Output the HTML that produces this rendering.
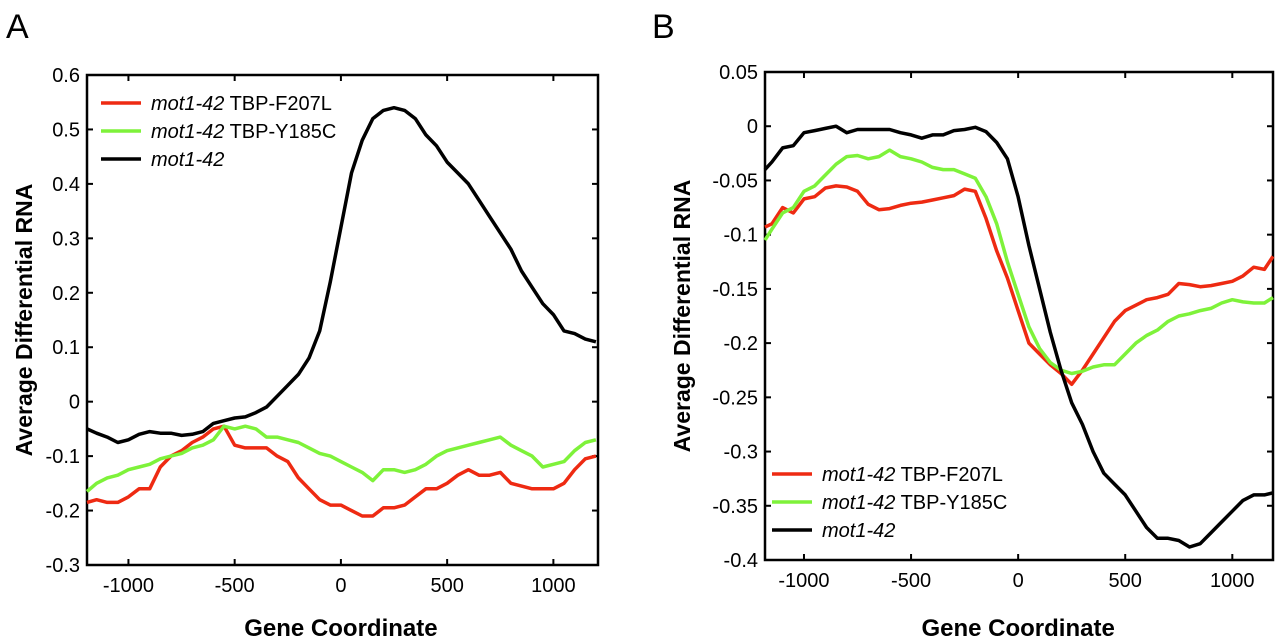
<!DOCTYPE html>
<html><head><meta charset="utf-8"><style>
body{margin:0;background:#fff;}
svg{display:block;font-family:"Liberation Sans",Arial,sans-serif;}
</style></head><body>
<svg id="chart" width="1280" height="641" viewBox="0 0 1280 641" xmlns="http://www.w3.org/2000/svg">
<text x="6" y="38" font-size="34">A</text>
<text x="652" y="38" font-size="34">B</text>
<g id="pa"></g>
<g id="pb"></g>
</svg>
<script>
const xCoords=[];for(let v=-1200;v<=1200;v+=50)xCoords.push(v);
const xTicks=[-1000,-500,0,500,1000];
const aYTicks=[0.6,0.5,0.4,0.3,0.2,0.1,0,-0.1,-0.2,-0.3];
const bYTicks=[0.05,0,-0.05,-0.1,-0.15,-0.2,-0.25,-0.3,-0.35,-0.4];
const aBlack=[-0.05,-0.058,-0.065,-0.075,-0.07,-0.06,-0.055,-0.058,-0.058,-0.062,-0.06,-0.055,-0.04,-0.035,-0.03,-0.028,-0.02,-0.01,0.01,0.03,0.05,0.08,0.13,0.22,0.32,0.42,0.48,0.52,0.535,0.54,0.535,0.52,0.49,0.47,0.44,0.42,0.40,0.37,0.34,0.31,0.28,0.24,0.21,0.18,0.16,0.13,0.125,0.115,0.11];
const aRed=[-0.185,-0.18,-0.185,-0.185,-0.175,-0.16,-0.16,-0.12,-0.1,-0.09,-0.075,-0.065,-0.05,-0.045,-0.08,-0.085,-0.085,-0.085,-0.1,-0.11,-0.14,-0.16,-0.18,-0.19,-0.19,-0.2,-0.21,-0.21,-0.195,-0.195,-0.19,-0.175,-0.16,-0.16,-0.15,-0.135,-0.125,-0.135,-0.135,-0.13,-0.15,-0.155,-0.16,-0.16,-0.16,-0.15,-0.125,-0.105,-0.1];
const aGreen=[-0.165,-0.15,-0.14,-0.135,-0.125,-0.12,-0.115,-0.105,-0.1,-0.095,-0.085,-0.08,-0.07,-0.045,-0.05,-0.045,-0.05,-0.065,-0.065,-0.07,-0.075,-0.085,-0.095,-0.1,-0.11,-0.12,-0.13,-0.145,-0.125,-0.125,-0.13,-0.125,-0.115,-0.1,-0.09,-0.085,-0.08,-0.075,-0.07,-0.065,-0.08,-0.09,-0.1,-0.12,-0.115,-0.11,-0.09,-0.075,-0.07];
const bBlack=[-0.04,-0.033,-0.02,-0.018,-0.006,-0.004,-0.002,0,-0.006,-0.003,-0.003,-0.003,-0.003,-0.006,-0.008,-0.011,-0.008,-0.008,-0.004,-0.003,-0.001,-0.005,-0.015,-0.03,-0.065,-0.11,-0.15,-0.19,-0.225,-0.255,-0.275,-0.3,-0.32,-0.33,-0.34,-0.355,-0.37,-0.38,-0.38,-0.382,-0.388,-0.385,-0.375,-0.365,-0.355,-0.345,-0.34,-0.34,-0.338];
const bRed=[-0.093,-0.09,-0.075,-0.08,-0.067,-0.065,-0.057,-0.055,-0.056,-0.06,-0.072,-0.077,-0.076,-0.073,-0.071,-0.07,-0.068,-0.066,-0.064,-0.058,-0.06,-0.085,-0.115,-0.14,-0.17,-0.2,-0.21,-0.22,-0.228,-0.238,-0.225,-0.21,-0.195,-0.18,-0.17,-0.165,-0.16,-0.158,-0.155,-0.145,-0.146,-0.148,-0.147,-0.145,-0.143,-0.138,-0.13,-0.132,-0.12];
const bGreen=[-0.105,-0.095,-0.08,-0.075,-0.06,-0.055,-0.045,-0.035,-0.028,-0.027,-0.03,-0.028,-0.022,-0.028,-0.03,-0.033,-0.038,-0.04,-0.04,-0.044,-0.048,-0.065,-0.09,-0.125,-0.155,-0.185,-0.205,-0.218,-0.225,-0.228,-0.226,-0.222,-0.22,-0.22,-0.21,-0.2,-0.193,-0.188,-0.18,-0.175,-0.173,-0.17,-0.168,-0.163,-0.16,-0.162,-0.163,-0.163,-0.158];
const NS="http://www.w3.org/2000/svg";
function mk(p,t,a){const e=document.createElementNS(NS,t);for(const k in a)e.setAttribute(k,a[k]);p.appendChild(e);return e;}
function panel(g,cfg){
  const X=v=>cfg.x0+(v-cfg.dmin)/(cfg.dmax-cfg.dmin)*(cfg.x1-cfg.x0);
  const Y=v=>cfg.y0+(cfg.ymax-v)/(cfg.ymax-cfg.ymin)*(cfg.y1-cfg.y0);
  const inX=v=>Math.max(cfg.dmin,Math.min(cfg.dmax,v));
  const box=mk(g,'rect',{x:cfg.x0,y:cfg.y0,width:cfg.x1-cfg.x0,height:cfg.y1-cfg.y0,fill:'none',stroke:'#000','stroke-width':2.5});
  
  
  cfg.yt.forEach(v=>{
    const y=Y(v);
    mk(g,'line',{x1:cfg.x0,x2:cfg.x0+6,y1:y,y2:y,stroke:'#000','stroke-width':2});
    mk(g,'line',{x1:cfg.x1-6,x2:cfg.x1,y1:y,y2:y,stroke:'#000','stroke-width':2});
    const t=mk(g,'text',{x:cfg.x0-7,y:y+7,'text-anchor':'end','font-size':20});
    t.textContent=String(v);
    
    
  });
  xTicks.forEach(v=>{
    const x=X(v);
    mk(g,'line',{x1:x,x2:x,y1:cfg.y1,y2:cfg.y1-6,stroke:'#000','stroke-width':2});
    mk(g,'line',{x1:x,x2:x,y1:cfg.y0,y2:cfg.y0+6,stroke:'#000','stroke-width':2});
    const t=mk(g,'text',{x:x,y:cfg.y1+27,'text-anchor':'middle','font-size':20});
    t.textContent=String(v);
    
    
  });
  const cx=X(0);
  const xt=mk(g,'text',{x:cx,y:636,'text-anchor':'middle','font-size':24,'font-weight':'bold'});
  xt.textContent='Gene Coordinate';
  
  
  const cy=(cfg.y0+cfg.y1)/2;
  const yt=mk(g,'text',{x:0,y:0,'text-anchor':'middle','font-size':23,'font-weight':'bold',transform:`translate(${cfg.yx},${cy}) rotate(-90)`});
  yt.textContent='Average Differential RNA';
  
  
  cfg.series.forEach(s=>{
    const d=s.v.map((v,i)=>(i?'L':'M')+X(inX(xCoords[i])).toFixed(1)+','+Y(v).toFixed(1)).join(' ');
    const p=mk(g,'path',{d:d,fill:'none',stroke:s.c,'stroke-width':3.5,'stroke-linejoin':'round'});
    
    
  });
  cfg.series.forEach((s,i)=>{
    const ly=cfg.ly+i*cfg.lstep;
    const l=mk(g,'line',{x1:cfg.lx,x2:cfg.lx+40,y1:ly,y2:ly,stroke:s.c,'stroke-width':3.5});
    
    
    const t=mk(g,'text',{x:cfg.lx+50,y:ly+7,'font-size':20});
    
    
    const it=mk(t,'tspan',{'font-style':'italic'});it.textContent='mot1-42';
    if(s.l){const r=mk(t,'tspan',{});r.textContent=' '+s.l;}
  });
}
panel(document.getElementById('pa'),{x0:87,x1:598,y0:75,y1:565,dmin:-1195,dmax:1210,ymax:0.6,ymin:-0.3,yt:aYTicks,yx:32,lx:101,ly:103,lstep:28,
  series:[{v:aRed,c:'#ee2a12',n:'line-tbp-f207l',l:'TBP-F207L'},{v:aGreen,c:'#7ef23a',n:'line-tbp-y185c',l:'TBP-Y185C'},{v:aBlack,c:'#000',n:'line-mot1-42',l:''}]});
panel(document.getElementById('pb'),{x0:765,x1:1273,y0:72,y1:560,dmin:-1182,dmax:1190,ymax:0.05,ymin:-0.4,yt:bYTicks,yx:690,lx:772,ly:474,lstep:28,
  series:[{v:bRed,c:'#ee2a12',n:'line-tbp-f207l',l:'TBP-F207L'},{v:bGreen,c:'#7ef23a',n:'line-tbp-y185c',l:'TBP-Y185C'},{v:bBlack,c:'#000',n:'line-mot1-42',l:''}]});
</script>
</body></html>
